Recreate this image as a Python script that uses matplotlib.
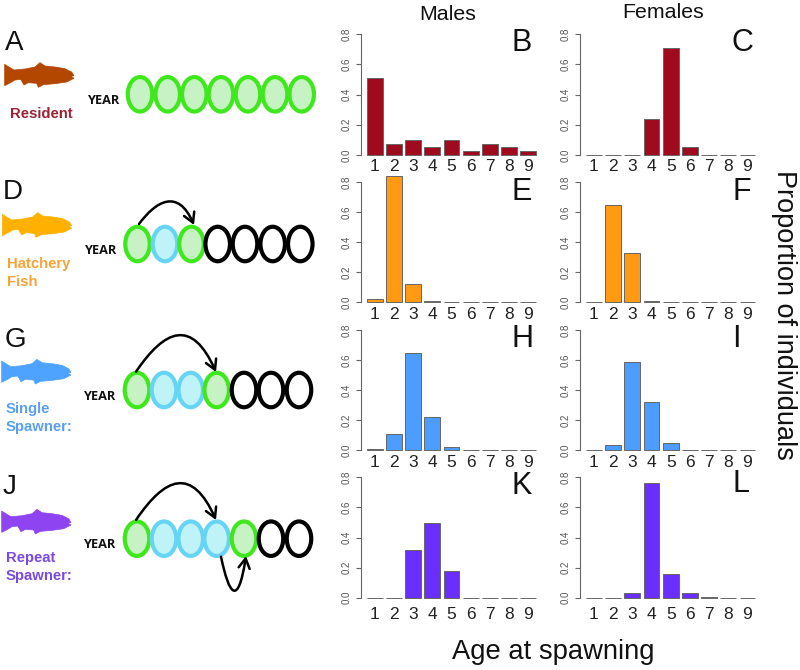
import matplotlib
matplotlib.use('Agg')
import matplotlib.pyplot as plt
from matplotlib.patches import Ellipse, Polygon, FancyArrowPatch
from matplotlib.path import Path

plt.rcParams['font.family'] = ['Liberation Sans', 'DejaVu Sans']

W, H = 800, 670

ages = [1, 2, 3, 4, 5, 6, 7, 8, 9]
age_labels = ['1', '2', '3', '4', '5', '6', '7', '8', '9']
y_ticks = [0.0, 0.2, 0.4, 0.6, 0.8]

males_resident = [0.51, 0.075, 0.10, 0.05, 0.10, 0.025, 0.075, 0.05, 0.025]
females_resident = [0, 0, 0, 0.235, 0.705, 0.055, 0, 0, 0]
males_hatchery = [0.025, 0.845, 0.12, 0.012, 0, 0, 0, 0, 0]
females_hatchery = [0, 0.65, 0.33, 0.012, 0.004, 0, 0, 0, 0]
males_single = [0.005, 0.105, 0.65, 0.22, 0.02, 0, 0, 0, 0]
females_single = [0, 0.035, 0.59, 0.32, 0.045, 0, 0, 0, 0]
males_repeat = [0, 0, 0.32, 0.495, 0.175, 0, 0, 0, 0]
females_repeat = [0, 0, 0.03, 0.765, 0.16, 0.03, 0.002, 0, 0]

bar_colors = ['#a00a1e', '#ff9a12', '#4d9cff', '#6a2eff']
fish_colors = ['#b34700', '#ffb000', '#4da3ff', '#8e44f0']
label_colors = ['#9b2335', '#f5a33a', '#5b9ff0', '#7b4ae0']

GREEN = ('#c6f2c4', '#3fe81c')
BLUE = ('#bff3f8', '#66d5f5')
BLACK = ('white', 'black')

# fish outline, in pixels x3
fish_x = [14, 30, 42, 75, 105, 120, 135, 165, 195, 215, 222, 213, 222, 200, 165,
          130, 115, 110, 85, 72, 62, 45, 30, 14]
fish_y = [28, 38, 45, 42, 36, 23, 33, 36, 41, 51, 62, 64, 70, 81, 86,
          89, 97, 85, 83, 90, 73, 75, 84, 92]
fish_origin = [(0, 55), (-2.3, 205), (-3, 351.7), (-3, 501.7)]

rows = [
    dict(y0=155, y8=34, pad=2.9, male=males_resident, female=females_resident),
    dict(y0=302.3, y8=182.3, pad=3.2, male=males_hatchery, female=females_hatchery),
    dict(y0=450, y8=330, pad=3.6, male=males_single, female=females_single),
    dict(y0=597.7, y8=477.3, pad=6.5, male=males_repeat, female=females_repeat),
]


def add_panel(fig, left, right, row, values, color):
    ax = fig.add_axes([left / W, 1 - row['y0'] / H, (right - left) / W, (row['y0'] - row['y8']) / H])
    ax.bar(ages, values, width=0.83, color=color, edgecolor='#666666', linewidth=0.7, clip_on=False)
    ax.set_xlim(0.26, 9.61)
    ax.set_ylim(0, 0.8)
    ax.patch.set_alpha(0)
    for side in ['top', 'right', 'bottom']:
        ax.spines[side].set_visible(False)
    ax.spines['left'].set_color('#666666')
    ax.spines['left'].set_linewidth(0.8)
    ax.set_yticks(y_ticks)
    ax.set_yticklabels(['%.1f' % t for t in y_ticks], rotation=90, va='center', fontsize=7, color='#555555')
    ax.tick_params(axis='y', length=3.6, width=0.8, color='#666666', pad=3)
    ax.set_xticks(ages)
    ax.set_xticklabels(age_labels, fontsize=12.5, color='#222222')
    ax.tick_params(axis='x', length=0, pad=row['pad'])


def add_circles(ax, xs, y, styles):
    for x, (fill, edge) in zip(xs, styles):
        ax.add_patch(Ellipse((x, y), 24.5, 34.5, facecolor=fill, edgecolor=edge, linewidth=3))


def add_arrow(ax, start, ctrl1, ctrl2, end):
    path = Path([start, ctrl1, ctrl2, end], [Path.MOVETO, Path.CURVE4, Path.CURVE4, Path.CURVE4])
    ax.add_patch(FancyArrowPatch(path=path, transform=ax.transData, color='black', linewidth=1.8,
                                 arrowstyle='->,head_length=7,head_width=4', zorder=5))


fig = plt.figure(figsize=(8, 6.7), dpi=100)

for row, color in zip(rows, bar_colors):
    add_panel(fig, 360.5, 540, row, row['male'], color)
    add_panel(fig, 579.7, 759.2, row, row['female'], color)

# overlay in image pixels, for the schematic and the free text
ov = fig.add_axes([0, 0, 1, 1])
ov.set_xlim(0, W)
ov.set_ylim(H, 0)
ov.axis('off')
ov.patch.set_alpha(0)

add_circles(ov, [140, 167.7, 194.3, 221, 248, 275, 301.7], 94.3, [GREEN] * 7)
add_circles(ov, [137.5, 165, 191.5, 217.7, 245, 272.7, 300.3], 244,
            [GREEN, BLUE, GREEN, BLACK, BLACK, BLACK, BLACK])
add_circles(ov, [137, 164, 190.7, 216.7, 244, 271, 299], 390,
            [GREEN, BLUE, BLUE, GREEN, BLACK, BLACK, BLACK])
add_circles(ov, [137, 164, 190.7, 216.7, 244, 271, 299], 538.7,
            [GREEN, BLUE, BLUE, BLUE, GREEN, BLACK, BLACK])

add_arrow(ov, (139, 224), (156, 201), (178, 188), (194, 225))
add_arrow(ov, (136, 371.7), (165, 329), (192, 318), (216, 372))
add_arrow(ov, (136, 520), (165, 477), (192, 466), (216, 520))
add_arrow(ov, (221, 556.7), (229, 595), (238, 608), (246, 556))

for (ox, oy), color in zip(fish_origin, fish_colors):
    pts = [(ox + x / 3, oy + y / 3) for x, y in zip(fish_x, fish_y)]
    ov.add_patch(Polygon(pts, closed=True, facecolor=color, edgecolor=color, linewidth=0.5))

for x, y in [(87, 100.7), (84, 250.7), (83, 396), (83, 545)]:
    ov.text(x, y, 'YEAR', fontsize=9.2, fontweight='bold', family='Open Sans', va='center', color='#111111')

group_labels = [
    (10, 113.7, 'Resident', label_colors[0]),
    (7, 264, 'Hatchery', label_colors[1]),
    (7, 282, 'Fish', label_colors[1]),
    (6, 409, 'Single', label_colors[2]),
    (6, 427.3, 'Spawner:', label_colors[2]),
    (6, 558, 'Repeat', label_colors[3]),
    (6, 576, 'Spawner:', label_colors[3]),
]
for x, y, s, c in group_labels:
    ov.text(x, y, s, fontsize=10.7, fontweight='bold', color=c, va='center')

left_letters = [(14, 43, 'A'), (13, 192, 'D'), (15, 340, 'G'), (10, 487, 'J')]
for x, y, s in left_letters:
    ov.text(x, y, s, fontsize=20, ha='center', va='center', color='#111111')

panel_letters = [(522, 43, 'B'), (742.7, 43, 'C'), (522, 192, 'E'), (741.7, 192, 'F'),
                 (522.7, 339, 'H'), (736.7, 339, 'I'), (522, 485.7, 'K'), (741, 484, 'L')]
for x, y, s in panel_letters:
    ov.text(x, y, s, fontsize=22, ha='center', va='center', color='#111111')

ov.text(448, 14, 'Males', fontsize=15.4, ha='center', va='center', color='#111111')
ov.text(663, 13, 'Females', fontsize=15.4, ha='center', va='center', color='#111111')
ov.text(553, 652, 'Age at spawning', fontsize=19.7, ha='center', va='center', color='#111111')
ov.text(784, 315, 'Proportion of individuals', fontsize=19.5, rotation=270, ha='center', va='center', color='#111111')

fig.savefig('out.png', dpi=100, facecolor='white')
